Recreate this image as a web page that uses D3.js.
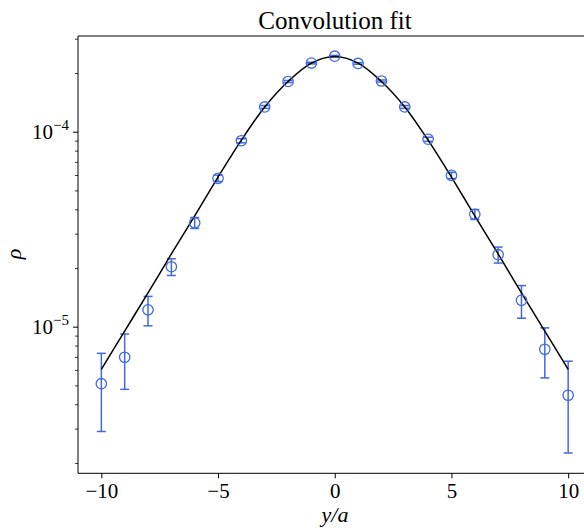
<!DOCTYPE html>
<html>
<head>
<meta charset="utf-8">
<script src="https://cdn.jsdelivr.net/npm/d3@7"></script>
<style>
html,body{margin:0;padding:0;background:#fff;}
svg{display:block;}
</style>
</head>
<body>
<svg id="chart" width="584" height="528"></svg>
<script>
// ---- data ----
const xPoints = [-10,-9,-8,-7,-6,-5,-4,-3,-2,-1,0,1,2,3,4,5,6,7,8,9,10];
const rhoValues = [5.1e-6,6.97e-6,1.22e-5,2.03e-5,3.41e-5,5.77e-5,8.99e-5,1.34e-4,1.81e-4,2.25e-4,2.44e-4,
                   2.24e-4,1.82e-4,1.34e-4,9.15e-5,5.97e-5,3.77e-5,2.34e-5,1.365e-5,7.66e-6,4.45e-6];
const rhoErrors = [2.2e-6,2.2e-6,2.1e-6,2.0e-6,2.2e-6,2.2e-6,2.2e-6,2.2e-6,2.2e-6,2.2e-6,2.2e-6,
                   2.2e-6,2.2e-6,2.2e-6,2.2e-6,2.2e-6,2.2e-6,2.2e-6,2.6e-6,2.2e-6,2.2e-6];
const fitX = [-10,-9,-8,-7,-6,-5,-4,-3,-2,-1,0,1,2,3,4,5,6,7,8,9,10];
const fitValues = [6.04e-6,9.5e-6,1.49e-5,2.36e-5,3.70e-5,5.85e-5,9.05e-5,1.34e-4,1.81e-4,2.25e-4,2.43e-4,
                   2.25e-4,1.81e-4,1.34e-4,9.05e-5,5.85e-5,3.70e-5,2.36e-5,1.49e-5,9.5e-6,6.04e-6];
const xTicks = [-10,-5,0,5,10];
const xTickLabels = ["\u221210","\u22125","0","5","10"];
const yMajorTicks = [1e-5,1e-4];
const yMajorExp = ["\u22125","\u22124"];
const titleText = "Convolution fit";
const xLabel = "y/a";
const yLabel = "\u03c1";

// ---- layout ----
const L = 78, R = 591.5, T = 36, B = 473.3;
const svg = d3.select("#chart");
const serif = "'Liberation Serif','DejaVu Serif',serif";
const blue = "#4169e1";

const x = d3.scaleLinear().domain([-11, 11]).range([L, R]);
const y = d3.scaleLog().domain([1.77e-6, 3.097e-4]).range([B, T]);

// error bars
const eb = svg.append("g");
xPoints.forEach((xv, i) => {
  const v = rhoValues[i], e = rhoErrors[i];
  const yt = y(v + e), yb = y(v - e), xp = x(xv);
  eb.append("line").attr("x1", xp).attr("x2", xp).attr("y1", yt).attr("y2", yb)
    .attr("stroke", blue).attr("stroke-width", 1.5);
  [yt, yb].forEach(yy => eb.append("line").attr("x1", xp - 4.5).attr("x2", xp + 4.5)
    .attr("y1", yy).attr("y2", yy).attr("stroke", blue).attr("stroke-width", 1.5));
});

// fit curve
const line = d3.line().x(d => x(d[0])).y(d => y(d[1])).curve(d3.curveCatmullRom.alpha(0.5));
svg.append("path").datum(fitX.map((xv, i) => [xv, fitValues[i]]))
  .attr("d", line).attr("fill", "none").attr("stroke", "#000").attr("stroke-width", 1.5);

// markers
svg.append("g").selectAll("circle").data(xPoints).join("circle")
  .attr("cx", d => x(d)).attr("cy", (d, i) => y(rhoValues[i])).attr("r", 5.2)
  .attr("fill", "none").attr("stroke", blue).attr("stroke-width", 1.3);

// spines
svg.append("line").attr("x1", L).attr("x2", L).attr("y1", T).attr("y2", B).attr("stroke", "#000").attr("stroke-width", 1);
svg.append("line").attr("x1", L).attr("x2", 584).attr("y1", B).attr("y2", B).attr("stroke", "#000").attr("stroke-width", 1);
svg.append("line").attr("x1", L).attr("x2", 584).attr("y1", T).attr("y2", T).attr("stroke", "#000").attr("stroke-width", 1);

// x axis
const xAxis = d3.axisBottom(x).tickValues(xTicks).tickSize(5).tickFormat((d, i) => xTickLabels[i]);
const gx = svg.append("g").attr("transform", `translate(0,${B})`).call(xAxis);
gx.select(".domain").remove();
gx.selectAll(".tick line").attr("stroke", "#000").attr("stroke-width", 1);
gx.selectAll(".tick text").attr("font-family", serif).attr("font-size", 21).attr("fill", "#000")
  .attr("y", 0).attr("dy", 0).attr("transform", "translate(0,25)");

// y axis major
const yAxis = d3.axisLeft(y).tickValues(yMajorTicks).tickSize(5).tickFormat("");
const gy = svg.append("g").attr("transform", `translate(${L},0)`).call(yAxis);
gy.select(".domain").remove();
gy.selectAll(".tick line").attr("stroke", "#000").attr("stroke-width", 1);
gy.selectAll(".tick text").remove();
yMajorTicks.forEach((t, i) => {
  const tx = svg.append("text").attr("x", 69).attr("y", y(t) + 7.5).attr("text-anchor", "end")
    .attr("font-family", serif).attr("fill", "#000");
  tx.append("tspan").attr("font-size", 21).text("10");
  tx.append("tspan").attr("font-size", 15).attr("dy", -9).text(yMajorExp[i]);
});

// y axis minor
const minorTicks = [];
[1e-6, 1e-5, 1e-4].forEach(dec => { for (let k = 2; k <= 9; k++) { const v = k * dec; if (v >= y.domain()[0] && v <= y.domain()[1]) minorTicks.push(v); } });
const gym = svg.append("g").attr("transform", `translate(${L},0)`)
  .call(d3.axisLeft(y).tickValues(minorTicks).tickSize(3).tickFormat(""));
gym.select(".domain").remove();
gym.selectAll(".tick line").attr("stroke", "#000").attr("stroke-width", 0.8);

// title and labels
svg.append("text").attr("x", 335).attr("y", 29).attr("text-anchor", "middle")
  .attr("font-family", serif).attr("font-size", 25).attr("fill", "#000").text(titleText);
svg.append("text").attr("x", 335).attr("y", 522).attr("text-anchor", "middle")
  .attr("font-family", serif).attr("font-style", "italic").attr("font-size", 22).attr("fill", "#000").text(xLabel);
svg.append("text").attr("transform", "translate(21,254) rotate(-90)").attr("text-anchor", "middle")
  .attr("font-family", serif).attr("font-style", "italic").attr("font-size", 22).attr("fill", "#000").text(yLabel);
</script>
</body>
</html>
